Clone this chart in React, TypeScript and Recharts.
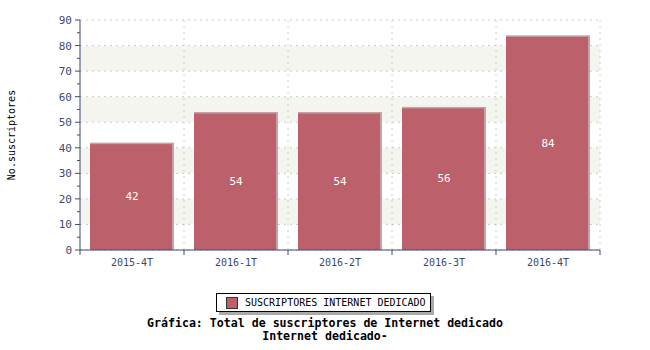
import React from 'react';
import { BarChart, Bar, XAxis, YAxis, CartesianGrid, LabelList } from 'recharts';

const categories = ['2015-4T', '2016-1T', '2016-2T', '2016-3T', '2016-4T'];
const values = [42, 54, 54, 56, 84];
const yTicks = [0, 5, 10, 15, 20, 25, 30, 35, 40, 45, 50, 55, 60, 65, 70, 75, 80, 85, 90];
const gridValues = [0, 10, 20, 30, 40, 50, 60, 70, 80, 90];
const seriesName = 'SUSCRIPTORES INTERNET DEDICADO';
const yLabel = 'No.suscriptores';
const titleLines = ['Gráfica: Total de suscriptores de Internet dedicado', 'Internet dedicado-'];

const data = categories.map((c, i) => ({ cat: c, value: values[i] }));

const AXIS = '#3d4a73';
const BAR = '#bc616b';
const BAR_EDGE = '#c4a2a6';
const MONO = '"DejaVu Sans Mono", monospace';
const Y_MAX = yTicks[yTicks.length - 1];

const hGen = (p: any) => {
  const off = p && p.offset ? p.offset : { top: 20, height: 230 };
  return gridValues.map((v) => off.top + off.height * (1 - v / Y_MAX));
};
const vGen = (p: any) => {
  const off = p && p.offset ? p.offset : { left: 80, width: 520 };
  return categories.map((_, i) => off.left + ((i + 1) * off.width) / categories.length);
};

const XTick = (props: any) => {
  const { x, y, payload, index, visibleTicksCount, width } = props;
  const step = (width || 520) / (visibleTicksCount || 5);
  const left = x - step / 2;
  return (
    <g>
      <line x1={left} x2={left} y1={y} y2={y + 5} stroke={AXIS} strokeWidth={1} />
      {index === visibleTicksCount - 1 && (
        <line x1={left + step} x2={left + step} y1={y} y2={y + 5} stroke={AXIS} strokeWidth={1} />
      )}
      <text x={x} y={y + 16} textAnchor="middle" fill={AXIS} fontSize={10} fontFamily={MONO}>
        {payload.value}
      </text>
    </g>
  );
};

const YTick = (props: any) => {
  const { x, y, payload } = props;
  const major = payload.value % 10 === 0;
  return (
    <g>
      <line x1={x - (major ? 5 : 3)} x2={x} y1={y} y2={y} stroke={AXIS} strokeWidth={1} />
      {major && (
        <text x={x - 8} y={y + 4} textAnchor="end" fill={AXIS} fontSize={11} fontFamily={MONO}>
          {payload.value}
        </text>
      )}
    </g>
  );
};

const BarShape = (props: any) => {
  const { x, y, width, height } = props;
  if (!height) return null;
  return (
    <g>
      <rect x={x} y={y} width={width} height={height} fill={BAR_EDGE} />
      <rect x={x} y={y + 1.5} width={width - 2} height={height - 1.5} fill={BAR} />
    </g>
  );
};

export default function App() {
  return (
    <div style={{ position: 'absolute', left: 0, top: 0, width: 650, height: 350, background: '#fff' }}>
      <BarChart
        width={650}
        height={350}
        data={data}
        margin={{ top: 20, right: 50, left: 0, bottom: 70 }}
        barCategoryGap={10}
      >
        <CartesianGrid
          horizontal
          vertical={false}
          stroke="transparent"
          horizontalFill={['#ffffff', '#f5f5f0']}
          fillOpacity={1}
          horizontalCoordinatesGenerator={hGen}
        />
        <CartesianGrid
          horizontal
          vertical
          stroke="#cccccc"
          strokeDasharray="2 4"
          horizontalCoordinatesGenerator={hGen}
          verticalCoordinatesGenerator={vGen}
        />
        <XAxis
          dataKey="cat"
          height={30}
          tickLine={false}
          tickSize={0}
          tickMargin={0}
          axisLine={{ stroke: AXIS }}
          tick={<XTick />}
          interval={0}
        />
        <YAxis
          width={80}
          domain={[0, Y_MAX]}
          ticks={yTicks}
          interval={0}
          tickLine={false}
          tickSize={0}
          tickMargin={0}
          axisLine={{ stroke: AXIS }}
          tick={<YTick />}
          label={{
            value: yLabel,
            angle: -90,
            position: 'insideLeft',
            dx: 6,
            style: { fontFamily: MONO, fontSize: 10, fill: '#000', textAnchor: 'middle' },
          }}
        />
        <Bar dataKey="value" name={seriesName} fill={BAR} shape={<BarShape />} isAnimationActive={false}>
          <LabelList dataKey="value" position="center" fill="#fff" fontSize={11} fontFamily={MONO} />
        </Bar>
      </BarChart>
      <div
        style={{
          position: 'absolute',
          left: 216,
          top: 293,
          width: 215,
          height: 19,
          border: '1px solid #000',
          background: '#fff',
          boxShadow: '3px 3px 0 #aaa',
          boxSizing: 'border-box',
          display: 'flex',
          alignItems: 'center',
          fontFamily: MONO,
          fontSize: 10,
          color: '#000',
        }}
      >
        <span
          style={{
            display: 'inline-block',
            width: 10,
            height: 10,
            background: BAR,
            border: '1px solid #333',
            marginLeft: 9,
            marginRight: 7,
          }}
        />
        <span>{seriesName}</span>
      </div>
      <div
        style={{
          position: 'absolute',
          left: 0,
          top: 317,
          width: 650,
          textAlign: 'center',
          fontFamily: MONO,
          fontWeight: 'bold',
          fontSize: 11.6,
          lineHeight: '13px',
          color: '#000',
        }}
      >
        <div>{titleLines[0]}</div>
        <div>{titleLines[1]}</div>
      </div>
    </div>
  );
}
